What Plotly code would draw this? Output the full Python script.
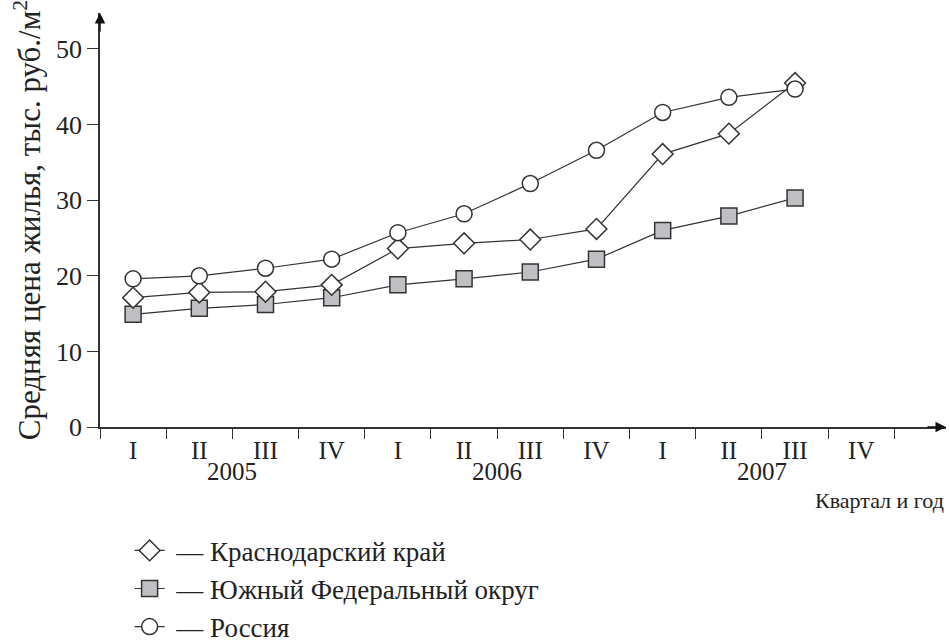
import plotly.graph_objects as go

quarters = ["I", "II", "III", "IV", "I", "II", "III", "IV", "I", "II", "III", "IV"]
years = ["2005", "2006", "2007"]
krasnodar = [17.1, 17.8, 17.9, 18.8, 23.6, 24.3, 24.8, 26.2, 36.1, 38.8, 45.5]
yufo = [14.9, 15.7, 16.2, 17.1, 18.8, 19.6, 20.5, 22.2, 26.0, 27.9, 30.3]
russia = [19.6, 20.0, 21.0, 22.2, 25.7, 28.2, 32.2, 36.6, 41.6, 43.6, 44.7]

FONT = "Liberation Serif, DejaVu Serif, serif"
INK = "#333333"
TXT = "#222222"
pos = [i + 0.5 for i in range(len(quarters))]

fig = go.Figure()
series = [
    ("\u00a0— Южный Федеральный округ", yufo, "square", "#c0c0c4", 2),
    ("\u00a0— Краснодарский край", krasnodar, "diamond", "white", 1),
    ("\u00a0— Россия", russia, "circle", "white", 3),
]
for name, vals, sym, fill, rank in series:
    fig.add_trace(go.Scatter(
        x=pos[:len(vals)], y=vals, mode="lines+markers", name=name,
        legendrank=rank, legendgroup=name,
        line=dict(color=INK, width=1.2),
        marker=dict(symbol=sym, size=16, color=fill, line=dict(color=INK, width=1.5)),
    ))

fig.update_layout(
    width=950, height=644,
    margin=dict(l=100, r=4, t=13, b=217, autoexpand=False),
    paper_bgcolor="white", plot_bgcolor="white",
    font=dict(family=FONT, size=24, color=TXT),
    showlegend=True,
    legend=dict(x=0.035, y=-0.24, xanchor="left", yanchor="top",
                font=dict(family=FONT, size=27, color=TXT),
                tracegroupgap=0, bgcolor="rgba(0,0,0,0)"),
    xaxis=dict(
        range=[0, 12.78], showgrid=False, zeroline=False,
        showline=True, linecolor=INK, linewidth=1.5,
        tickmode="array", tickvals=pos, ticktext=quarters, ticks="",
        tickfont=dict(family=FONT, size=25, color=TXT),
        minor=dict(tickmode="array", tickvals=list(range(13)), ticks="outside", ticklen=10,
                   tickcolor=INK, tickwidth=1, showgrid=False),
        fixedrange=True,
    ),
    yaxis=dict(
        range=[0, 54.76], showgrid=False, zeroline=False,
        showline=True, linecolor=INK, linewidth=1.5,
        tickvals=[0, 10, 20, 30, 40, 50], ticks="outside", ticklen=11,
        tickcolor=INK, tickwidth=1,
        tickfont=dict(family=FONT, size=26, color=TXT),
        title=dict(text="Средняя цена жилья, тыс. руб./м<sup>2</sup>",
                   font=dict(family=FONT, size=31, color=TXT), standoff=6),
        fixedrange=True,
    ),
)

# axis arrowheads
fig.add_annotation(xref="paper", yref="paper", x=1.0, y=0, ax=-20, ay=0,
                   text="", showarrow=True, arrowhead=2, arrowsize=1.4,
                   arrowwidth=1.5, arrowcolor="#111")
fig.add_annotation(xref="paper", yref="paper", x=0, y=1.0, ax=0, ay=20,
                   text="", showarrow=True, arrowhead=2, arrowsize=1.4,
                   arrowwidth=1.5, arrowcolor="#111")

# year labels
for i, yr in enumerate(years):
    fig.add_annotation(x=2 + 4 * i, xref="x", y=0, yref="paper", yshift=-44,
                       text=yr, showarrow=False, yanchor="middle",
                       font=dict(family=FONT, size=25, color=TXT))

fig.add_annotation(x=1.0, xref="paper", y=0, yref="paper", yshift=-73,
                   text="Квартал и год", showarrow=False, xanchor="right", yanchor="middle",
                   font=dict(family=FONT, size=22, color=TXT))

fig.write_html("out.html", config={"displayModeBar": False},
               post_script="document.body.style.margin='0';document.body.style.padding='0';")
